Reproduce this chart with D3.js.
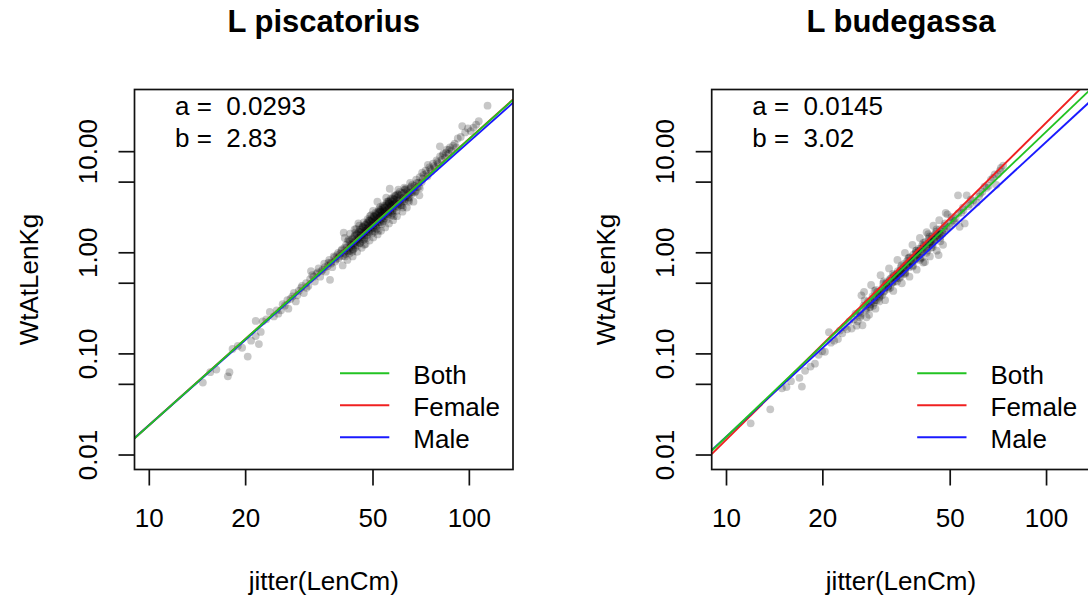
<!DOCTYPE html>
<html>
<head>
<meta charset="utf-8">
<script src="https://cdn.jsdelivr.net/npm/d3@7"></script>
<style>
  html, body { margin: 0; padding: 0; background: #fff; }
  svg text { font-family: "Liberation Sans", Arial, sans-serif; white-space: pre; }
</style>
</head>
<body>
<svg id="chart" width="1088" height="599"></svg>
<script>
// ---- data ----
const panelTitles = ["L piscatorius", "L budegassa"];
const seriesNames = ["Both", "Female", "Male"];
const seriesColors = ["#22c322", "#f02020", "#1a1aff"];
const drawOrder = [1, 2, 0]; // Both drawn on top

// length-weight fits: W(g) = a * L^b  (plotted in kg)
const fitsPisc = [ { a: 0.0293, b: 2.83 }, { a: 0.0292, b: 2.832 }, { a: 0.0310, b: 2.805 } ];
const fitsBude = [ { a: 0.0145, b: 3.02 }, { a: 0.01042, b: 3.136 }, { a: 0.01845, b: 2.917 } ];
const coefLabels = [["a =  0.0293", "b =  2.83"], ["a =  0.0145", "b =  3.02"]];

const xTicks = [10, 20, 50, 100];
const yTicks = [0.01, 0.05, 0.1, 0.5, 1, 5, 10];
const yTickLabels = { 0.01: "0.01", 0.1: "0.10", 1: "1.00", 10: "10.00" };

// [LenCm, WtKg]
const ptsPisc = [
  [14.7,0.052],[15.5,0.066],[16.2,0.070],[17.6,0.060],[17.8,0.066],[18.2,0.112],[18.9,0.12],[19.5,0.115],
  [20.3,0.094],[20.8,0.135],[21.5,0.15],[21.5,0.212],[22.0,0.125],[22.3,0.165],[22.6,0.21],[23.2,0.22],
  [23.8,0.26],[24.5,0.235],[25.3,0.25],[25.8,0.27],[26.5,0.30],[27.0,0.34],[27.2,0.28],[28.0,0.37],
  [28.7,0.33],[29.3,0.42],[29.8,0.45],[30.4,0.40],[30.9,0.50],[31.4,0.47],[31.8,0.55],[32.0,0.66],
  [32.3,0.60],[32.9,0.52],[33.3,0.62],[33.8,0.70],[34.2,0.58],[34.8,0.68],[35.2,0.78],[35.6,0.65],
  [36.1,0.74],[36.5,0.85],[36.7,0.54],[36.9,0.80],[37.3,0.72],[37.7,0.92],[38.1,0.82],[38.6,0.95],
  [39.0,0.88],[39.5,0.98],[40.0,1.08],[40.3,0.93],[40.5,1.58],[40.7,1.12],[41.0,0.97],[41.2,1.20],
  [41.5,1.05],[41.8,1.30],[42.0,1.10],[42.2,0.98],[42.5,1.22],[42.8,1.15],[43.0,1.38],[43.2,1.08],
  [43.5,1.25],[43.7,1.45],[44.0,1.20],[44.2,1.33],[44.5,1.52],[44.7,1.28],[45.0,1.40],[45.0,1.95],
  [45.2,1.62],[45.4,1.35],[45.7,1.48],[46.0,1.70],[46.2,1.42],[46.4,1.55],[46.7,1.80],[47.0,1.50],
  [47.0,1.20],[47.2,1.65],[47.5,1.90],[47.7,1.58],[48.0,1.72],[48.2,1.95],[48.4,1.62],[48.7,1.78],
  [49.0,2.05],[49.2,1.70],[49.5,1.85],[49.8,2.15],[50.0,1.78],[50.0,2.60],[50.3,1.95],[50.5,2.25],
  [50.8,1.88],[51.0,2.05],[51.3,2.35],[51.5,1.98],[51.6,3.20],[51.8,2.15],[52.0,2.45],[52.0,1.65],
  [52.3,2.02],[52.5,2.25],[52.8,2.55],[53.0,2.15],[53.3,2.35],[53.6,2.70],[53.9,2.28],[54.2,2.45],
  [54.5,2.80],[54.8,2.40],[55.0,3.50],[55.1,2.60],[55.4,2.95],[55.7,2.50],[56.0,2.70],[56.3,3.05],
  [56.4,4.30],[56.6,2.62],[57.0,2.85],[57.3,3.20],[57.7,2.75],[58.0,2.98],[58.0,2.30],[58.4,3.35],
  [58.8,2.90],[59.2,3.12],[59.6,3.50],[60.0,3.05],[60.0,4.20],[60.5,3.30],[61.0,3.70],[61.5,3.20],
  [62.0,3.45],[62.0,2.80],[62.5,3.90],[63.0,3.40],[63.5,3.65],[64.0,4.10],[64.5,3.55],[65.0,3.90],
  [65.5,4.35],[66.0,3.80],[66.7,4.15],[67.3,4.60],[68.0,4.05],[68.7,4.45],[69.4,4.95],[70.0,4.35],
  [70.0,5.60],[71.0,5.00],[72.0,5.90],[73.0,6.50],[74.0,5.70],[74.2,7.40],[75.0,7.00],[76.0,6.40],
  [77.0,7.60],[78.0,6.90],[79.0,8.20],[80.0,7.60],[80.9,11.3],[81.0,9.00],[82.0,8.30],[83.0,9.60],
  [84.0,8.80],[85.0,10.5],[86.0,9.50],[87.0,11.0],[88.0,10.2],[90.0,12.0],[91.0,11.0],[92.0,13.5],
  [94.0,14.0],[95.0,17.9],[97.0,15.5],[99.0,17.0],[101.0,16.0],[103.0,17.3],[105.0,18.5],[107.0,20.0],
  [114.0,28.5],
  [44.3,1.72],[46.9,1.35],[48.9,2.30],[50.6,1.62],[52.6,2.85],[53.8,2.05],[55.9,3.25],[57.5,2.45],
  [59.0,3.70],[61.2,2.95],[63.2,4.30],[64.8,3.20],[49.4,2.00],[51.2,2.20],[53.2,2.50],[54.0,2.60],
  [47.6,1.75],[45.8,1.60],[56.8,2.95],[58.6,3.10],
  [42.3,1.05],[42.3,1.30],[42.7,1.18],[43.1,1.02],[43.1,1.35],[43.5,1.20],[43.9,1.12],[43.9,1.48],
  [44.3,1.30],[44.7,1.18],[44.7,1.55],[45.1,1.38],[45.5,1.25],[45.5,1.70],[45.9,1.50],[46.3,1.32],
  [46.3,1.78],[46.7,1.58],[47.1,1.42],[47.1,1.88],[47.5,1.65],[47.9,1.50],[47.9,1.98],[48.3,1.75],
  [48.7,1.58],[48.7,2.08],[49.1,1.85],[49.5,1.65],[49.5,2.20],[49.9,1.95],[50.3,1.75],[50.3,2.30],
  [50.7,2.05],[51.1,1.82],[51.1,2.42],[51.5,2.15],[51.9,1.90],[51.9,2.55],[52.3,2.25],[52.7,2.00],
  [52.7,2.65],[53.1,2.35],[53.5,2.10],[53.5,2.80],[53.9,2.45],[54.3,2.20],[54.3,2.92],[54.7,2.55],
  [55.1,2.30],[55.1,3.05],[55.5,2.68],[55.9,2.40],[55.9,3.18],[56.3,2.80],[56.7,2.50],[56.7,3.30],
  [57.1,2.92],[57.6,2.60],[57.6,3.45],[58.1,3.05],[58.6,2.75],[58.6,3.62],[59.1,3.20],[59.7,2.85],
  [59.7,3.80],[60.3,3.35],[60.9,3.00],[61.5,3.90],[62.1,3.50],[62.8,3.25],[63.5,4.20],[64.2,3.75],
  [65.0,3.50],[65.8,4.50],[66.5,4.00],[67.5,3.95],[68.5,4.90],[69.5,4.50],[71.5,5.40],[73.5,6.10],
  [75.5,6.70],[77.5,7.20],[79.5,7.90],[82.5,9.20],[84.5,9.80],[86.5,10.5],[89.0,11.5],
  [35.4,0.72],[36.3,0.80],[37.0,0.78],[37.9,0.90],[38.3,0.86],[38.9,1.00],[39.3,0.92],[39.8,1.05],
  [40.6,1.00],[41.3,1.12],[41.7,1.02],
  [25.0,0.27],[26.1,0.31],[27.6,0.35],[28.3,0.40],[29.0,0.38],[30.0,0.47],[31.0,0.45],[32.6,0.58],
  [33.6,0.64],[34.5,0.66],
  [40.2,0.75],[40.8,1.40],[41.6,0.85],[42.4,1.55],[43.2,0.92],[43.8,1.70],[44.6,1.02],[45.3,1.85],
  [46.1,1.12],[46.8,2.00],[47.4,1.22],[48.1,2.15],[48.8,1.32],[49.3,2.35],[50.1,1.42],[50.9,2.50],
  [51.7,1.52],[52.2,2.70],[53.0,1.65],[53.7,2.95],[54.6,1.78],[55.3,3.20],[56.1,1.95],[56.9,3.45],
  [57.8,2.10],[58.3,3.70],[59.4,2.30],[60.6,4.00],[61.8,2.55],[62.6,4.40],[63.8,2.80],[65.3,4.90],
  [66.9,3.20],[68.2,5.30],[69.8,3.70],[71.2,6.20],
  [40.9,0.92],[41.9,1.35],[43.4,1.08],[44.1,1.58],[45.6,1.25],[46.5,1.82],[47.8,1.40],[48.5,2.08],
  [49.7,1.55],[50.4,2.30],[51.4,1.72],[52.4,2.55],[53.3,1.92],[54.1,2.82],[55.2,2.12],[56.0,3.10],
  [57.2,2.35],[58.0,3.40],[59.3,2.60],[60.2,3.75],[61.7,2.95],[62.9,4.20],[64.6,3.30],[66.2,4.70]
];
const ptsBude = [
  [11.9,0.0206],[13.7,0.0283],[14.9,0.0457],[15.4,0.047],[15.9,0.0537],[16.9,0.058],[17.2,0.0475],[17.6,0.068],
  [18.3,0.075],[18.9,0.080],[19.4,0.098],[19.9,0.106],[20.3,0.105],[20.9,0.164],[21.2,0.129],[21.7,0.135],
  [22.3,0.14],[22.6,0.17],[23.0,0.16],[23.4,0.185],[23.8,0.175],[24.2,0.21],[24.6,0.178],[25.0,0.22],
  [25.3,0.25],[25.7,0.21],[26.0,0.26],[26.3,0.24],[26.6,0.192],[26.9,0.41],[27.2,0.28],[27.5,0.31],
  [27.9,0.244],[28.1,0.29],[28.4,0.33],[28.7,0.30],[29.0,0.36],[29.3,0.43],[29.5,0.34],[29.8,0.39],
  [30.0,0.33],[30.1,0.37],[30.4,0.42],[30.9,0.50],[31.2,0.45],[31.6,0.49],[32.0,0.47],[32.3,0.53],
  [32.5,0.45],[32.7,0.56],[33.0,0.51],[33.3,0.59],[33.7,0.57],[34.0,0.62],[34.4,0.60],[34.8,0.66],
  [35.0,0.58],[35.2,0.64],[35.6,0.70],[36.0,0.68],[36.4,0.76],[36.8,0.75],[37.0,0.88],[37.2,0.72],
  [37.6,0.82],[38.0,0.80],[38.4,0.88],[38.8,0.85],[39.0,1.00],[39.2,0.93],[39.7,1.03],[40.1,0.96],
  [40.5,1.10],[40.8,0.90],[41.0,1.02],[41.4,1.18],[41.7,0.81],[42.1,1.12],[42.7,1.53],[43.0,1.22],
  [43.4,1.30],[43.6,1.12],[43.8,1.25],[44.2,1.38],[44.6,1.35],[45.0,1.45],[45.2,1.62],[45.5,1.42],
  [46.0,0.95],[46.3,1.55],[46.8,1.50],[47.3,1.54],[47.8,1.68],[48.4,2.48],[48.8,1.75],[49.6,1.81],
  [50.2,1.98],[51.0,2.10],[52.0,2.20],[52.9,3.70],[53.5,1.81],[54.2,2.50],[55.0,2.65],[55.5,1.95],
  [56.3,3.70],[57.0,2.90],[57.7,3.03],[59.0,3.30],[60.5,3.15],[61.5,3.60],[63.0,4.02],[65.0,4.40],
  [67.0,5.30],[68.9,5.97],[69.7,4.70],[71.5,6.50],[73.2,7.29],
  [28.9,0.32],[31.0,0.41],[33.5,0.52],[34.6,0.56],[36.2,0.64],[38.2,0.75],[40.3,0.88],[42.4,1.05],
  [44.0,1.20],[46.5,1.40],[30.6,0.38],[35.8,0.62],
  [26.2,0.25],[26.8,0.30],[27.3,0.27],[27.7,0.33],[28.2,0.31],[28.6,0.37],[29.1,0.34],[29.6,0.41],
  [30.2,0.39],[30.7,0.45],[31.1,0.42],[31.5,0.50],[31.9,0.46],[32.4,0.55],[32.9,0.50],[33.4,0.60],
  [33.9,0.56],[34.3,0.66],[34.7,0.62],[35.1,0.72],[35.5,0.66],[35.9,0.78],[36.3,0.71],[36.7,0.83],
  [37.1,0.76],[37.5,0.90],[37.9,0.83],[38.3,0.96],[38.7,0.90],[39.1,1.05],[39.5,0.95],[39.9,1.10],
  [40.4,1.02],[40.9,1.20],[41.3,1.08],[41.8,1.28],[42.3,1.18],[42.8,1.38],[43.3,1.28],[43.9,1.46],
  [44.4,1.34],[45.0,1.55],[45.7,1.50],[46.4,1.70],[47.2,1.62],[48.0,1.85],[50.5,2.25],[51.5,2.05],
  [53.0,2.45],[54.8,2.80],[58.0,3.35],[62.0,3.85],[64.0,4.50],[66.0,4.60],[68.0,5.50],[70.5,6.00],
  [72.0,6.90],
  [25.5,0.19],[26.4,0.38],[27.4,0.23],[28.3,0.48],[29.2,0.28],[30.3,0.60],[31.3,0.34],[32.2,0.70],
  [33.2,0.42],[34.2,0.85],[35.3,0.50],[36.1,1.00],[37.3,0.58],[38.1,1.20],[39.3,0.68],[40.2,1.40],
  [41.2,0.80],[42.2,1.60],[43.2,0.92],[44.3,1.85],[45.4,1.05],[46.2,2.10],[47.5,1.20],[49.0,2.40],
  [26.1,0.23],[27.0,0.34],[28.0,0.29],[29.0,0.42],[30.0,0.36],[31.0,0.52],[32.1,0.44],[33.1,0.62],
  [34.1,0.52],[35.2,0.75],[36.2,0.62],[37.2,0.90],[38.2,0.73],[39.2,1.05],[40.2,0.85],[41.2,1.25],
  [42.2,1.00],[43.1,1.45],[44.1,1.14],[45.3,1.70],[46.6,1.30],[48.2,1.95]
];

// ---- layout ----
const svg = d3.select("#chart");
const W = 378.5, H = 380;
const panelX = [134.5, 711.7], panelY = 89.5;

const x = d3.scaleLog().domain([8.99, 136.9]).range([0, W]);
const y = d3.scaleLog().domain([0.00719, 41.2]).range([H, 0]);

const FS = 26;

function drawPanel(i, pts, fits) {
  const g = svg.append("g").attr("transform", `translate(${panelX[i]},${panelY})`);

  g.append("clipPath").attr("id", "clip" + i)
    .append("rect").attr("width", W).attr("height", H);

  const inner = g.append("g").attr("clip-path", `url(#clip${i})`);

  // points
  inner.selectAll("circle").data(pts).join("circle")
    .attr("cx", d => x(d[0])).attr("cy", d => y(d[1]))
    .attr("r", 3.9).attr("fill", "#000").attr("fill-opacity", 0.22);

  // fitted lines (straight in log-log space)
  const [x0, x1] = x.domain();
  drawOrder.forEach(k => {
    const f = fits[k];
    const wt = L => f.a * Math.pow(L, f.b) / 1000;
    inner.append("line")
      .attr("x1", x(x0)).attr("y1", y(wt(x0)))
      .attr("x2", x(x1)).attr("y2", y(wt(x1)))
      .attr("stroke", seriesColors[k]).attr("stroke-width", 1.9);
  });

  // box
  g.append("rect").attr("width", W).attr("height", H)
    .attr("fill", "none").attr("stroke", "#111").attr("stroke-width", 1.7);

  // x axis ticks
  xTicks.forEach(t => {
    g.append("line").attr("x1", x(t)).attr("x2", x(t)).attr("y1", H).attr("y2", H + 16)
      .attr("stroke", "#111").attr("stroke-width", 1.7);
    g.append("text").attr("x", x(t)).attr("y", H + 57.5).attr("text-anchor", "middle")
      .attr("font-size", FS).attr("fill", "#000").text(t);
  });

  // y axis ticks
  yTicks.forEach(t => {
    g.append("line").attr("x1", -16).attr("x2", 0).attr("y1", y(t)).attr("y2", y(t))
      .attr("stroke", "#111").attr("stroke-width", 1.7);
    if (yTickLabels[t]) {
      g.append("text").attr("transform", `translate(-37.5,${y(t)}) rotate(-90)`)
        .attr("text-anchor", "middle").attr("font-size", FS).attr("fill", "#000")
        .text(yTickLabels[t]);
    }
  });

  // axis titles
  g.append("text").attr("x", W / 2).attr("y", H + 120).attr("text-anchor", "middle")
    .attr("font-size", FS).text("jitter(LenCm)");
  g.append("text").attr("transform", `translate(-97,${H / 2}) rotate(-90)`)
    .attr("text-anchor", "middle").attr("font-size", FS).text("WtAtLenKg");

  // main title
  svg.append("text").attr("x", panelX[i] + W / 2).attr("y", 32)
    .attr("text-anchor", "middle").attr("font-size", 31).attr("font-weight", "bold")
    .text(panelTitles[i]);

  // coefficients
  coefLabels[i].forEach((s, k) => {
    g.append("text").attr("x", 40.5).attr("y", 25.5 + k * 31.7)
      .attr("font-size", FS).text(s);
  });

  // legend
  const leg = g.append("g").attr("transform", `translate(205.5,283.8)`);
  seriesNames.forEach((name, k) => {
    leg.append("line").attr("x1", 0).attr("x2", 49.3).attr("y1", k * 32).attr("y2", k * 32)
      .attr("stroke", seriesColors[k]).attr("stroke-width", 1.9);
    leg.append("text").attr("x", 73.3).attr("y", k * 32 + 10.5)
      .attr("font-size", FS).text(name);
  });
}

drawPanel(0, ptsPisc, fitsPisc);
drawPanel(1, ptsBude, fitsBude);
</script>
</body>
</html>
